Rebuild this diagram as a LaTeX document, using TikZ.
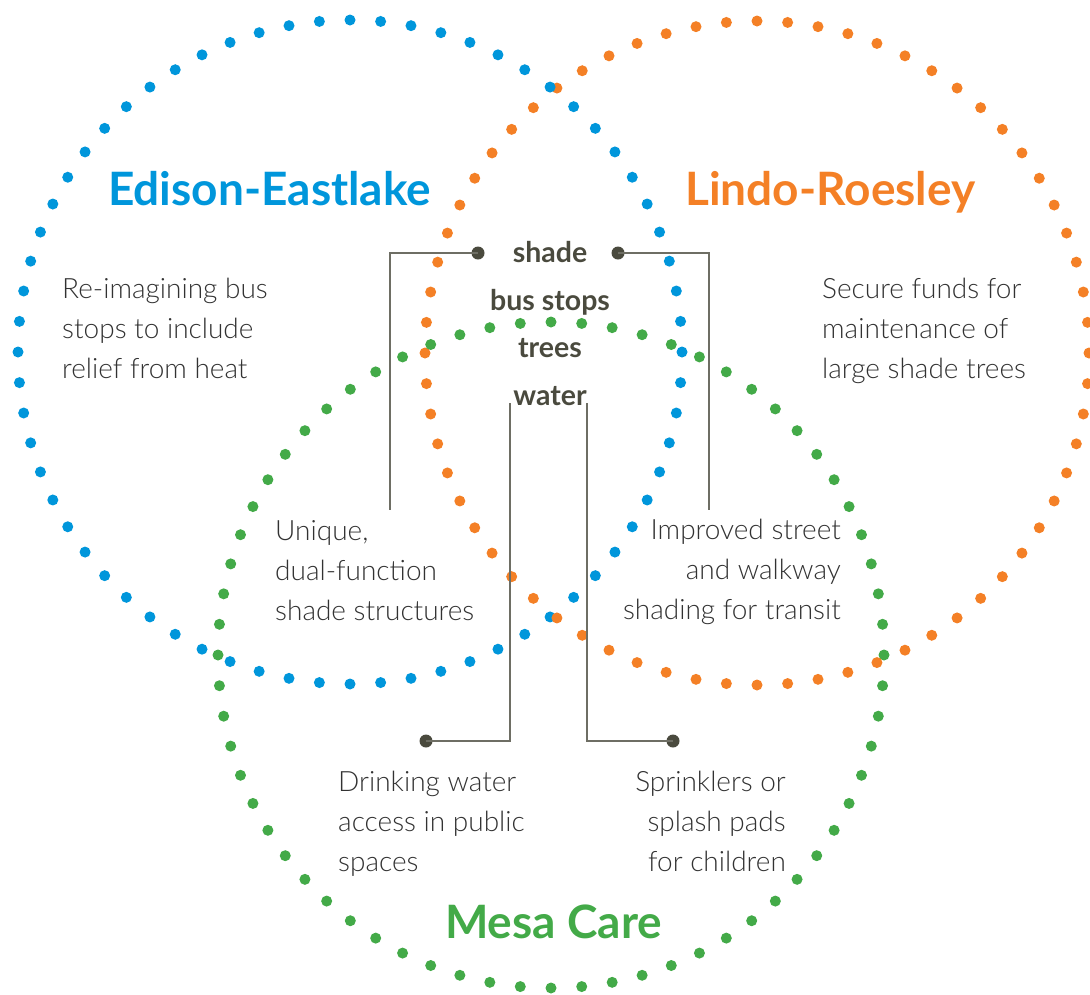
\documentclass[tikz,border=0pt]{standalone}
\usepackage{fontspec}
\setmainfont{Lato}
\newfontfamily\lightfont{Lato Light}
\definecolor{eblue}{RGB}{0,150,219}
\definecolor{lorange}{RGB}{244,128,38}
\definecolor{mgreen}{RGB}{67,170,72}
\definecolor{bodytext}{RGB}{50,50,50}
\definecolor{keytext}{RGB}{74,74,62}
\definecolor{leader}{RGB}{110,110,100}
\newcommand{\leftlines}[1]{\begin{tabular}[t]{@{}l@{}}#1\end{tabular}}
\newcommand{\rightlines}[1]{\begin{tabular}[t]{@{}r@{}}#1\end{tabular}}
\begin{document}
\begin{tikzpicture}[x=1pt,y=-1pt,
  title/.style={inner sep=0pt, anchor=base west, font=\bfseries\fontsize{46}{50}\selectfont},
  body/.style={inner sep=0pt, text=bodytext, font=\lightfont\fontsize{28}{40}\selectfont},
  keyword/.style={inner sep=0pt, anchor=base, text=keytext, font=\bfseries\fontsize{28.5}{30}\selectfont},
  enddot/.style={circle, fill=keytext, inner sep=0pt, minimum size=13pt},
  leaderline/.style={draw=leader, line width=1.4pt}]
\useasboundingbox (0,0) rectangle (1090,994);
% dotted circles
\foreach \i in {0,...,67} {
  \pgfmathsetmacro{\ang}{\i*5.294118}
  \fill[eblue] ({350+332*cos(\ang)},{352+332*sin(\ang)}) circle (5.5pt);
  \fill[lorange] ({757+332*cos(\ang)},{353+332*sin(\ang)}) circle (5.5pt);
  \fill[mgreen] ({551+333*cos(\ang)},{655+333*sin(\ang)}) circle (5.5pt);
}
% titles
\node[title, text=eblue] (ee) at (108,205) {Edison-Eastlake};
\node[title, text=lorange] (lr) at (685,205) {Lindo-Roesley};
\node[title, text=mgreen] (mc) at (445,938) {Mesa Care};
% keywords
\node[keyword] (shade) at (550,262) {shade};
\node[keyword] (bus) at (550,310) {bus stops};
\node[keyword] (trees) at (550,357) {trees};
\node[keyword] (water) at (550,405) {water};
% body texts
\node[body, anchor=base west] (t1) at (62,298) {\leftlines{Re-imagining bus\\stops to include\\relief from heat}};
\node[body, anchor=base west] (t2) at (822,298) {\leftlines{Secure funds for\\maintenance of\\large shade trees}};
\node[body, anchor=base west] (t3) at (275,540) {\leftlines{Unique,\\dual-function\\shade structures}};
\node[body, anchor=base east] (t4) at (841,539) {\rightlines{Improved street\\and walkway\\shading for transit}};
\node[body, anchor=base west] (t5) at (338,791) {\leftlines{Drinking water\\access in public\\spaces}};
\node[body, anchor=base east] (t6) at (786,791) {\rightlines{Sprinklers or\\splash pads\\for children}};
% leader end dots
\node[enddot] (d1) at (478,253) {};
\node[enddot] (d2) at (618,253) {};
\node[enddot] (d3) at (426,741) {};
\node[enddot] (d4) at (673,741) {};
\coordinate (e1) at (390,510);
\coordinate (e2) at (709,510);
\coordinate (w1) at (510,403);
\coordinate (w2) at (587,403);
% leaders
\draw[leaderline] (d1.center) -| (e1);
\draw[leaderline] (d2.center) -| (e2);
\draw[leaderline] (w1) |- (d3.center);
\draw[leaderline] (w2) |- (d4.center);
\end{tikzpicture}
\end{document}
